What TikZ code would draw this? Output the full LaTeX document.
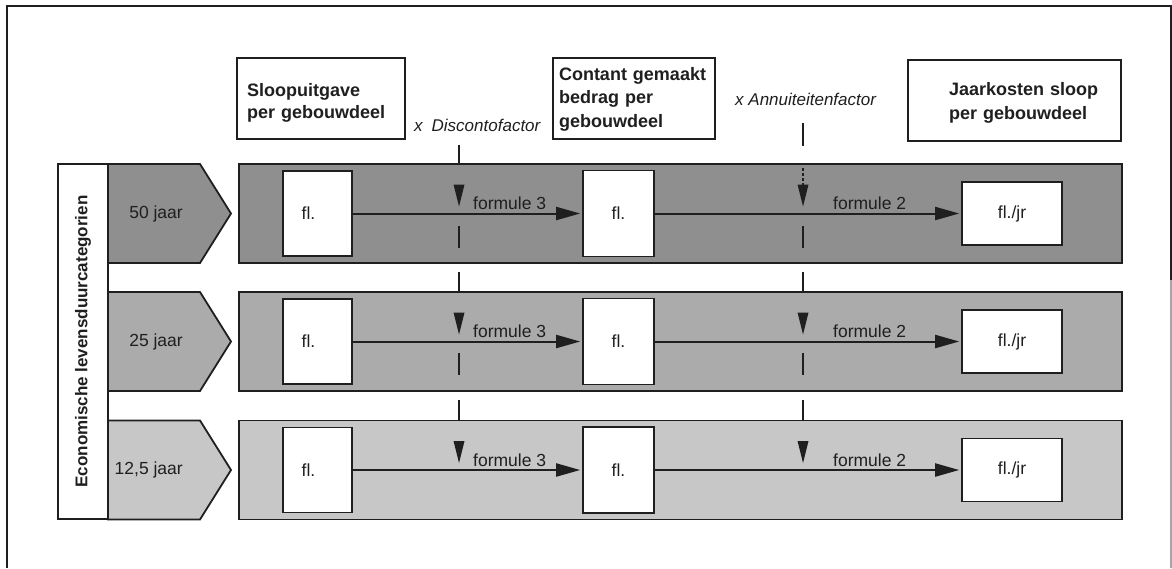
\documentclass[tikz,border=0pt]{standalone}
\usepackage{fontspec}
\setmainfont{Liberation Sans}
\usetikzlibrary{arrows.meta,calc}
\definecolor{inkc}{gray}{0.12}
\definecolor{shadeA}{gray}{0.56}
\definecolor{shadeB}{gray}{0.67}
\definecolor{shadeC}{gray}{0.78}
\begin{document}
\begin{tikzpicture}[x=1pt,y=-1pt,line join=miter,
  headbox/.style={draw=inkc, line width=1.5pt, fill=white, inner ysep=0pt, align=left, text=inkc},
  headfont/.style={font=\fontsize{18}{#1}\selectfont\bfseries},
  bandbox/.style={draw=inkc, line width=1.8pt, minimum width=883pt, minimum height=99pt, inner sep=0pt},
  cell/.style={draw=inkc, line width=1.6pt, fill=white, inner sep=0pt, text=inkc, font=\fontsize{17.5}{21}\selectfont},
  cellA/.style={cell, minimum width=69pt, minimum height=85pt},
  cellB/.style={cell, minimum width=71pt, minimum height=86pt},
  cellC/.style={cell, minimum width=100pt, minimum height=63pt},
  flow/.style={draw=inkc, line width=2pt, -{Triangle[length=24pt,width=13pt]}, shorten >=2pt},
  feed/.style={draw=inkc, line width=1.2pt},
  drop/.style={fill=inkc},
  plain/.style={inner sep=0pt, text=inkc, font=\fontsize{17.5}{21}\selectfont},
  factor/.style={inner sep=0pt, text=inkc, font=\fontsize{17}{21}\selectfont\itshape},
]
\useasboundingbox (0,0) rectangle (1172,568);

% outer frame (open at the bottom)
\draw[draw=inkc, line width=1.3pt] (7,568) -- (7,6) -- (1171,6) -- (1171,280);
\draw[draw=black!35, line width=1.3pt] (1171,280) -- (1171,568);

% column headings
\node[headbox, headfont=22, text width=152pt, inner xsep=8pt,
      text height=38pt, text depth=43pt] (hA) at (321,98.5) {\hspace*{2pt}Sloopuitgave\\\hspace*{2pt}per gebouwdeel};
\node[headbox, headfont=23.5, text width=150pt, inner xsep=6pt,
      text height=22pt, text depth=59pt] (hB) at (634,98.5) {Contant gemaakt\\bedrag per\\gebouwdeel};
\node[headbox, headfont=24, text width=173pt, inner xsep=20pt,
      text height=35pt, text depth=46pt] (hC) at (1014.5,100.5)
      {\hspace*{21pt}Jaarkosten sloop\\\hspace*{21pt}per gebouwdeel};

% factor labels
\node[factor, anchor=base west] (facA) at (414,131) {x\hspace{9pt}Discontofactor};
\node[factor, anchor=base west] (facB) at (735,105) {x Annuiteitenfactor};

% one band per lifetime category
\foreach \rw/\yc/\shade/\yrs in {1/213.5/shadeA/50 jaar, 2/341.5/shadeB/25 jaar, 3/470/shadeC/{12,5 jaar}}{
  \filldraw[fill=\shade, draw=inkc, line width=1.8pt]
    (108,\yc-49.5) -- (200,\yc-49.5) -- (231,\yc) -- (200,\yc+49.5) -- (108,\yc+49.5) -- cycle;
  \node[plain, anchor=east] (yr\rw) at (183,\yc) {\yrs};
  \node[bandbox, fill=\shade] (band\rw) at (680.5,\yc) {};
  \node[cellA, label={[plain, xshift=-9pt]center:fl.}] (cA\rw) at (317.5,\yc) {};
  \node[cellB] (cB\rw) at (618.5,\yc) {fl.};
  \node[cellC] (cC\rw) at (1012,\yc) {fl./jr};
  \draw[flow] (cA\rw.east) -- (cB\rw.west);
  \draw[flow] (cB\rw.east) -- (cC\rw.west);
  \node[plain, anchor=base west] (fA\rw) at (473,\yc-4) {formule 3};
  \node[plain, anchor=base west] (fB\rw) at (833,\yc-4) {formule 2};
  \foreach \x in {459,803}{
    \fill[drop] (\x-5.5,\yc-29) -- (\x+5.5,\yc-29) -- (\x,\yc-7) -- cycle;
  }
}

% factor feed lines into the bands
\draw[feed] (459,145) -- (459,164);
\draw[feed] (803,123) -- (803,146);
\draw[feed, dash pattern=on 3pt off 2pt] (803,168) -- (803,185);
\foreach \x in {459,803}{
  \draw[feed] (\x,272) -- (\x,292);
  \draw[feed] (\x,400) -- (\x,420.5);
  \draw[feed] (\x,226) -- (\x,248);
  \draw[feed] (\x,353) -- (\x,375);
}

% vertical category label
\node[draw=inkc, line width=1.5pt, fill=white, rotate=90, minimum width=355pt, minimum height=50pt,
      inner sep=0pt, text=inkc, font=\fontsize{17}{20}\selectfont\bfseries] (axis) at (83,341.5)
      {Economische levensduurcategorien};
\end{tikzpicture}
\end{document}
